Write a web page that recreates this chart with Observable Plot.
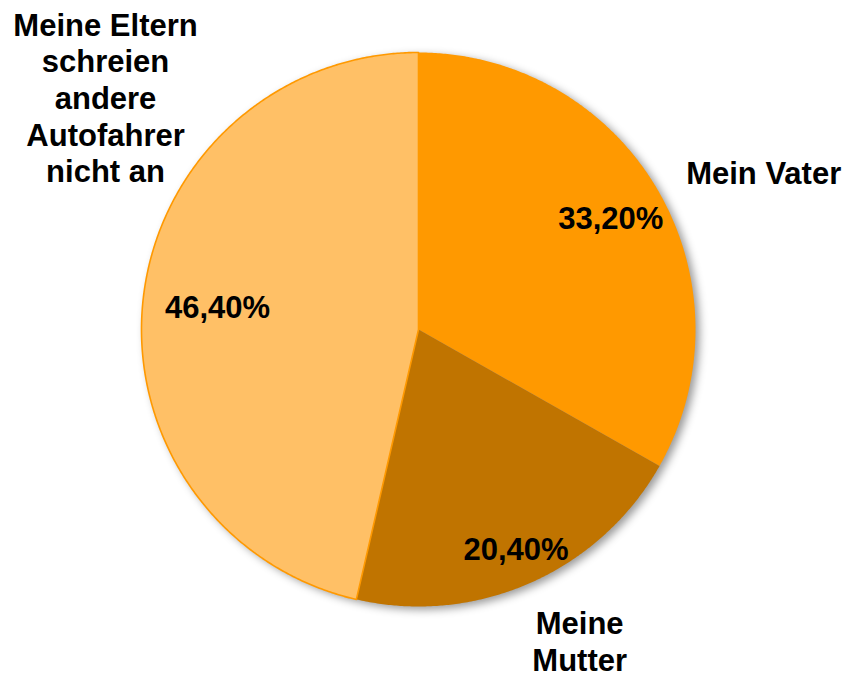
<!DOCTYPE html>
<html>
<head>
<meta charset="utf-8">
<script src="https://cdn.jsdelivr.net/npm/d3@7"></script>
<script src="https://cdn.jsdelivr.net/npm/@observablehq/plot@0.6"></script>
<style>
  html, body { margin: 0; padding: 0; background: #fff; }
  #chart { width: 846px; height: 677px; }
</style>
</head>
<body>
<div id="chart"></div>
<script>
// ---- data ----
const categories = ["Mein Vater", "Meine Mutter", "Meine Eltern schreien andere Autofahrer nicht an"];
const categoryLabels = ["Mein Vater", "Meine\nMutter", "Meine Eltern\nschreien\nandere\nAutofahrer\nnicht an"];
const values = [33.2, 20.4, 46.4];
const colors = ["#FF9900", "#C07400", "#FFC066"];

// ---- layout (not data) ----
const W = 846, H = 677;
const cx = 418, cy = 329, R = 277;
const pctRadius = [0.80, 0.87, 0.73];
const pctShift = [0.4, -0.1, -0.3];       // degrees
const catRadius = [1.37, 1.266, 1.407];
const catShift = [5.7, -3.6, 30.1];       // degrees

const arcs = d3.pie().sort(null)(values);
const deg = Math.PI / 180;

const points = [];
arcs.forEach((a, i) => {
  const key = categories[i];
  points.push({key, x: 0, y: 0});
  const n = Math.max(2, Math.ceil((a.endAngle - a.startAngle) / (0.4 * deg)));
  for (let k = 0; k <= n; k++) {
    const t = a.startAngle + (a.endAngle - a.startAngle) * k / n;
    points.push({key, x: Math.sin(t), y: -Math.cos(t)});
  }
});

const pctLabels = arcs.map((a, i) => {
  const m = (a.startAngle + a.endAngle) / 2 + pctShift[i] * deg;
  return {x: pctRadius[i] * Math.sin(m), y: -pctRadius[i] * Math.cos(m),
          text: values[i].toFixed(2).replace(".", ",") + "%"};
});
const catLabels = arcs.map((a, i) => {
  const m = (a.startAngle + a.endAngle) / 2 + catShift[i] * deg;
  return {x: catRadius[i] * Math.sin(m), y: -catRadius[i] * Math.cos(m),
          text: categoryLabels[i]};
});

const font = "'Liberation Sans', Arial, Helvetica, sans-serif";

const chart = Plot.plot({
  width: W,
  height: H,
  margin: 0,
  style: {background: "#fff", fontFamily: font},
  x: {domain: [-cx / R, (W - cx) / R], range: [0, W], axis: null},
  y: {domain: [-cy / R, (H - cy) / R], range: [0, H], axis: null},
  color: {domain: categories, range: colors},
  marks: [
    Plot.line(points, {x: "x", y: "y", z: "key", fill: "key", stroke: "none", curve: "linear-closed"}),
    Plot.line(points.filter(d => d.key === categories[2]), {x: "x", y: "y", fill: "none", stroke: "#FF9900", strokeWidth: 1.6, curve: "linear-closed"}),
    Plot.text(pctLabels, {x: "x", y: "y", text: "text", fontSize: 31, fontWeight: "bold", fill: "#000", textAnchor: "middle", fontFamily: font}),
    Plot.text(catLabels, {x: "x", y: "y", text: "text", fontSize: 31, fontWeight: "bold", fill: "#000", textAnchor: "middle", lineAnchor: "middle", lineHeight: 1.18, fontFamily: font})
  ]
});

const g = chart.querySelector('g[aria-label="line"]');
if (g) g.style.filter = "drop-shadow(4px 3px 4px rgba(0,0,0,0.4))";
document.getElementById("chart").appendChild(chart);
</script>
</body>
</html>
